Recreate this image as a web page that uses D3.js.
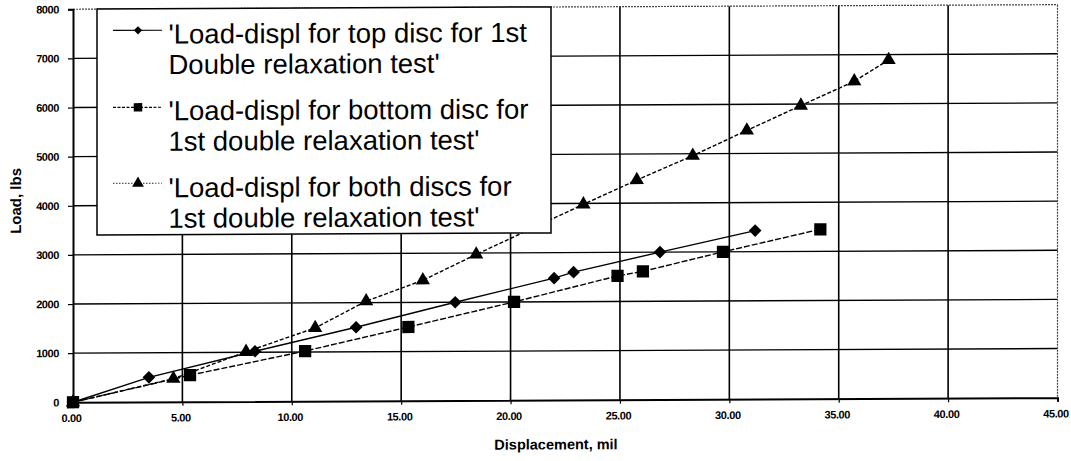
<!DOCTYPE html>
<html>
<head>
<meta charset="utf-8">
<script src="https://cdn.jsdelivr.net/npm/d3@7"></script>
<style>
  html, body { margin: 0; padding: 0; background: #fff; }
  svg { display: block; font-family: "Liberation Sans", Arial, sans-serif; }
</style>
</head>
<body>
<svg id="chart" width="1071" height="461"></svg>
<script>
// ---------------- data ----------------
const topDiscX    = [0, 3.47, 8.32, 12.94, 17.47, 21.99, 22.88, 26.83, 31.18];
const topDiscY    = [0, 500, 1020, 1500, 2000, 2480, 2600, 3000, 3430];
const bottomDiscX = [0, 5.35, 10.61, 15.33, 20.16, 24.89, 26.05, 29.71, 34.16];
const bottomDiscY = [0, 540, 1020, 1500, 2000, 2520, 2610, 3000, 3450];
const bothDiscX   = [0, 4.59, 7.91, 11.07, 13.4, 15.99, 18.43, 23.33, 25.77, 28.33, 30.8, 33.27, 35.71, 37.28];
const bothDiscY   = [0, 470, 1010, 1490, 2030, 2450, 2970, 3980, 4470, 4960, 5470, 5970, 6460, 6890];

const seriesNames = [
  ["'Load-displ for top disc for 1st", "Double relaxation test'"],
  ["'Load-displ for bottom disc for", "1st double relaxation test'"],
  ["'Load-displ for both discs for", "1st double relaxation test'"]
];
const xTicks = [0, 5, 10, 15, 20, 25, 30, 35, 40, 45];
const yTicks = [0, 1000, 2000, 3000, 4000, 5000, 6000, 7000, 8000];
const xTitle = "Displacement, mil";
const yTitle = "Load, lbs";

// ---------------- layout ----------------
const svg = d3.select("#chart");
// the scanned original is slightly sheared (horizontal lines rise to the right)
const root = svg.append("g").attr("transform", "skewY(-0.268)");

const x = d3.scaleLinear().domain([0, 45]).range([73, 1057.5]);
const y = d3.scaleLinear().domain([0, 8000]).range([402.6, 9.6]);

const zip = (xs, ys) => xs.map((v, i) => ({x: v, y: ys[i]}));
const series = [
  {pts: zip(topDiscX, topDiscY), marker: "diamond", dash: null, legDash: null},
  {pts: zip(bottomDiscX, bottomDiscY), marker: "square", dash: "6,2", legDash: "3,1.5"},
  {pts: zip(bothDiscX, bothDiscY), marker: "triangle", dash: "4,2", legDash: "1.5,1.5"}
];

// grid
const grid = root.append("g");
grid.selectAll("line.h").data(yTicks.filter(d => d > 0 && d < 8000)).join("line")
  .attr("x1", x(0)).attr("x2", x(45)).attr("y1", d => y(d)).attr("y2", d => y(d))
  .attr("stroke", "#000").attr("stroke-width", 1.4);
grid.selectAll("line.v").data(xTicks.filter(d => d > 0 && d < 45)).join("line")
  .attr("y1", y(0)).attr("y2", y(8000)).attr("x1", d => x(d)).attr("x2", d => x(d))
  .attr("stroke", "#000").attr("stroke-width", 1.6);
// top & right border (dotted look)
grid.append("line").attr("x1", x(0)).attr("x2", x(45)).attr("y1", y(8000)).attr("y2", y(8000))
  .attr("stroke", "#444").attr("stroke-width", 1.2).attr("stroke-dasharray", "2,1");
grid.append("line").attr("x1", x(45)).attr("x2", x(45)).attr("y1", y(8000)).attr("y2", y(0))
  .attr("stroke", "#444").attr("stroke-width", 1.2).attr("stroke-dasharray", "2,1");

// axes
const xAxis = root.append("g").attr("transform", `translate(0,${y(0)})`)
  .call(d3.axisBottom(x).tickValues(xTicks).tickFormat(d3.format(".2f")).tickSize(4).tickPadding(8));
const yAxis = root.append("g").attr("transform", `translate(${x(0)},0)`)
  .call(d3.axisLeft(y).tickValues(yTicks).tickFormat(d3.format("d")).tickSize(5).tickPadding(9));
[xAxis, yAxis].forEach(a => {
  a.select(".domain").attr("stroke", "#000").attr("stroke-width", 2);
  a.selectAll(".tick line").attr("stroke", "#000").attr("stroke-width", 1.2);
  a.selectAll(".tick text").attr("fill", "#000")
    .style("font-family", "'Liberation Sans', Arial, sans-serif")
    .style("font-size", "11px").style("font-weight", "bold").style("letter-spacing", "-0.4px");
});
xAxis.selectAll(".tick text").attr("dx", -2);

// axis titles
root.append("text").attr("x", 556).attr("y", 452).attr("text-anchor", "middle")
  .style("font-size", "14.5px").style("font-weight", "bold").text(xTitle);
root.append("text").attr("transform", "translate(21,201) rotate(-90)").attr("text-anchor", "middle")
  .style("font-size", "15px").style("font-weight", "bold").text(yTitle);

// markers (diamond = square rotated 45°)
const markerShape = {
  diamond: {sym: d3.symbol().type(d3.symbolSquare), size: 80, rot: 45, legSize: 34},
  square: {sym: d3.symbol().type(d3.symbolSquare), size: 150, rot: 0, legSize: 72},
  triangle: {sym: d3.symbol().type(d3.symbolTriangle), size: 88, rot: 0, legSize: 60}
};

const line = d3.line().x(d => x(d.x)).y(d => y(d.y));
const plot = root.append("g");
series.forEach(s => {
  plot.append("path").datum(s.pts).attr("d", line)
    .attr("fill", "none").attr("stroke", "#000").attr("stroke-width", 1.4)
    .attr("stroke-dasharray", s.dash);
});
series.forEach(s => {
  const m = markerShape[s.marker];
  plot.selectAll(null).data(s.pts).join("path")
    .attr("transform", d => `translate(${x(d.x)},${y(d.y)}) rotate(${m.rot})`)
    .attr("d", m.sym.size(m.size)()).attr("fill", "#000");
});

// legend
const lg = root.append("g");
lg.append("rect").attr("x", 97).attr("y", 9.5).attr("width", 454).attr("height", 226)
  .attr("fill", "#fff").attr("stroke", "#000").attr("stroke-width", 1.5);
const rowBase = [44.3, 121, 198];
const markerY = [31, 108, 184];
series.forEach((s, i) => {
  const m = markerShape[s.marker];
  lg.append("line").attr("x1", 113).attr("x2", 162).attr("y1", markerY[i]).attr("y2", markerY[i])
    .attr("stroke", i === 2 ? "#555" : "#000").attr("stroke-width", 1.2).attr("stroke-dasharray", s.legDash);
  lg.append("path").attr("transform", `translate(138,${markerY[i]}) rotate(${m.rot})`)
    .attr("d", m.sym.size(m.legSize)()).attr("fill", "#000");
  seriesNames[i].forEach((t, j) => {
    lg.append("text").attr("x", 168.5).attr("y", rowBase[i] + j * 30.5)
      .style("font-size", "27.5px").attr("fill", "#000").text(t);
  });
});
</script>
</body>
</html>
